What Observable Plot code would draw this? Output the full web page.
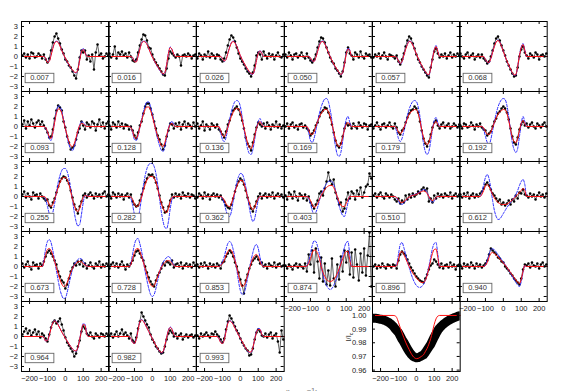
<!DOCTYPE html>
<html><head><meta charset="utf-8">
<script src="https://cdn.jsdelivr.net/npm/d3@7"></script>
<script src="https://cdn.jsdelivr.net/npm/@observablehq/plot@0.6"></script>
<style>
html,body{margin:0;padding:0;background:#fff;}
#fig{position:relative;width:568px;height:391px;overflow:hidden;background:#fff;font-family:"Liberation Sans",Arial,Helvetica,sans-serif;}
#fig svg{position:absolute;overflow:visible !important;background:transparent !important;}
#xlab{position:absolute;left:0;width:596px;top:386px;text-align:center;font-size:9px;color:#777;}
</style></head><body><div id="fig"><div id="xlab">v (km s<sup>−1</sup>)</div></div>
<script>
// ---- sampling grids and ticks ----
const vObs = [-240,-230,-220,-210,-200,-190,-180,-170,-160,-150,-140,-130,-120,-110,-100,-90,-80,-70,-60,-50,-40,-30,-20,-10,0,10,20,30,40,50,60,70,80,90,100,110,120,130,140,150,160,170,180,190,200,210,220,230,240];
const vMod = [-130,-120,-110,-100,-90,-80,-70,-60,-50,-40,-30,-20,-10,0,10,20,30,40,50,60,70,80,90,100,110,120,130];
const xDomain = [-245, 245];
const yDomain = [-3.5, 3.5];
const xTicks = [-200, -100, 0, 100, 200];
const yTicks = [-3, -2, -1, 0, 1, 2, 3];
const profDomain = [0.959, 1.0102];
const profTicks = [0.96, 0.97, 0.98, 0.99, 1.00];
const profLabel = "I/Ic";
const phases = ["0.007","0.016","0.026","0.050","0.057","0.068","0.093","0.128","0.136","0.169","0.179","0.192","0.255","0.282","0.362","0.403","0.510","0.612","0.673","0.728","0.853","0.874","0.896","0.940","0.964","0.982","0.993"];

// ---- per-phase observed (black), model (red) and alternative model (blue dashed) ----
const obs007 = [0.1,0.3,-0.1,0.2,-0.2,0.4,0.3,-0.1,0.0,0.3,0.1,
 -0.2,0.2,-0.3,-0.6,-0.2,0.6,1.4,2.0,2.3,1.8,1.3,0.7,0.3,-0.3,-0.5,-0.9,-1.1,-1.5,-1.9,-2.2,-1.3,-0.1,0.6,0.4,0.6,-0.3,0.1,
 -0.5,0.2,-1.3,0.4,1.2,0.1,0.3,-0.2,0.0,0.3,0.1];
const red007 = [0,0,-0.2,-0.6,-0.5,0.1,0.8,1.35,1.5,1.4,1.05,0.6,0.2,-0.15,-0.5,-0.8,-1.1,-1.35,-1.55,-1.6,-1.3,-0.4,0.45,0.7,0.35,0.05,0];
const blue007 = [0,0,-0.2,-0.55,-0.45,0.15,0.85,1.4,1.55,1.45,1.1,0.6,0.2,-0.2,-0.55,-0.85,-1.15,-1.4,-1.6,-1.65,-1.3,-0.35,0.55,0.8,0.4,0.05,0];

const obs016 = [0.3,-0.1,0.2,1.0,-0.2,0.4,0.2,0.5,0.1,0.3,-0.1,
 0.4,0.0,-0.4,-0.5,-0.3,0.4,1.1,1.7,2.2,2.1,1.6,0.9,0.8,0.2,-0.3,-0.6,-0.9,-1.2,-1.5,-1.8,-1.9,-1.2,-0.2,0.5,0.3,0.1,-0.1,
 0.2,0.0,-0.9,0.1,0.2,0.0,0.3,0.1,-0.2,0.1,0.2];
const red016 = [0,0,-0.1,-0.5,-0.55,0.0,0.7,1.3,1.5,1.45,1.2,0.8,0.35,-0.05,-0.4,-0.7,-1.0,-1.3,-1.55,-1.75,-1.6,-0.8,0.3,0.9,0.7,0.2,0];
const blue016 = [0,0,-0.1,-0.45,-0.5,0.05,0.75,1.35,1.55,1.5,1.25,0.8,0.35,-0.05,-0.4,-0.75,-1.05,-1.35,-1.6,-1.8,-1.6,-0.75,0.35,0.95,0.7,0.2,0];

const obs026 = [-0.2,0.3,0.1,-0.3,0.2,0.0,0.5,-0.1,0.3,0.1,-0.2,
 0.2,0.1,-0.3,-0.5,-0.2,0.4,1.1,1.7,2.1,1.9,1.5,0.9,0.3,-0.2,-0.5,-0.8,-1.2,-1.5,-1.7,-2.0,-1.6,-0.9,0.1,0.4,0.2,-0.3,0.5,
 0.1,-0.2,0.3,0.0,0.2,-0.3,0.1,0.4,0.0,-0.1,0.2];
const red026 = [0,0,0,-0.2,-0.45,-0.3,0.3,0.9,1.35,1.5,1.35,1.0,0.55,0.1,-0.3,-0.65,-0.95,-1.25,-1.5,-1.7,-1.75,-1.3,-0.4,0.3,0.55,0.3,0];
const blue026 = [0,0,0,-0.2,-0.5,-0.3,0.3,0.95,1.4,1.55,1.4,1.0,0.55,0.1,-0.3,-0.7,-1.0,-1.3,-1.55,-1.75,-1.8,-1.3,-0.4,0.35,0.6,0.3,0];

const obs050 = [0.2,-0.1,0.4,0.1,-0.3,0.2,0.3,-0.1,0.1,0.4,0.0,
 -0.2,0.3,-0.1,-0.4,-0.6,-0.3,0.2,0.9,1.5,1.9,1.8,1.4,0.9,0.4,-0.1,-0.5,-0.7,-1.2,-1.4,-1.7,-2.0,-1.5,-0.6,0.4,0.9,0.3,0.1,
 -0.3,0.4,0.2,-0.1,0.5,0.0,-0.2,0.3,0.1,0.2,-0.1];
const red050 = [0,0,0,-0.15,-0.4,-0.5,-0.1,0.5,1.1,1.45,1.5,1.25,0.85,0.4,0.0,-0.4,-0.75,-1.05,-1.35,-1.6,-1.8,-1.6,-0.8,0.2,0.75,0.6,0];
const blue050 = [0,0,0,-0.15,-0.45,-0.5,-0.1,0.55,1.15,1.5,1.55,1.3,0.85,0.4,0.0,-0.4,-0.8,-1.1,-1.4,-1.65,-1.85,-1.6,-0.75,0.3,0.85,0.65,0];

const obs057 = [-0.1,0.2,0.0,0.3,-0.2,0.1,0.4,0.0,-0.3,0.2,0.1,
 0.0,-0.2,0.1,-0.5,-0.8,-0.3,0.3,1.0,1.6,2.0,1.8,1.3,0.8,0.2,-0.3,-0.6,-1.0,-1.3,-1.6,-1.9,-2.1,-1.1,-0.3,0.5,0.8,0.3,-0.1,
 0.2,0.0,0.3,-0.2,0.1,0.4,-0.1,0.2,0.0,0.3,0.1];
const red057 = [0,0,-0.1,-0.45,-0.7,-0.5,0.1,0.7,1.2,1.5,1.45,1.15,0.7,0.25,-0.15,-0.55,-0.9,-1.2,-1.5,-1.75,-1.8,-1.2,-0.2,0.6,1.0,0.5,0];
const blue057 = [0,0,-0.1,-0.45,-0.75,-0.55,0.1,0.75,1.25,1.55,1.5,1.2,0.7,0.25,-0.15,-0.6,-0.95,-1.25,-1.55,-1.8,-1.85,-1.2,-0.15,0.7,1.1,0.55,0];

const obs068 = [0.3,0.0,-0.2,0.2,0.4,-0.1,0.1,0.3,-0.3,0.0,0.2,
 -0.1,0.2,-0.2,-0.4,-0.7,-0.5,0.0,0.6,1.3,1.8,2.0,1.6,1.1,0.6,0.1,-0.5,-0.9,-1.3,-1.7,-2.0,-1.9,-1.1,0.0,0.7,1.0,0.4,0.1,
 -0.2,0.3,0.1,-0.1,0.4,0.2,-0.3,0.1,0.2,0.0,0.3];
const red068 = [0,0,0,-0.3,-0.55,-0.6,-0.2,0.4,1.0,1.45,1.6,1.4,1.0,0.5,0.0,-0.45,-0.85,-1.25,-1.6,-1.85,-1.8,-1.0,0.1,0.85,1.2,0.6,0];
const blue068 = [0,0,0,-0.3,-0.6,-0.65,-0.2,0.45,1.05,1.5,1.65,1.45,1.0,0.5,0.0,-0.5,-0.9,-1.3,-1.65,-1.9,-1.85,-1.0,0.15,0.95,1.3,0.65,0];

const obs093 = [0.2,0.6,-0.2,0.5,0.1,0.7,0.3,-0.1,0.4,0.6,0.2,
 0.5,0.1,-0.2,-0.6,-1.1,-1.0,-0.3,0.8,1.6,2.1,1.9,1.6,0.5,-0.1,-1.0,-1.6,-2.3,-2.1,-1.9,-1.3,-0.6,-0.2,0.5,0.1,-0.3,0.4,0.2,
 -0.1,0.5,0.3,-0.4,0.2,0.7,0.0,0.4,-0.2,0.3,0.5];
const red093 = [0,0,-0.1,-0.5,-1.0,-1.2,-0.6,0.4,1.3,1.75,1.7,1.3,0.6,-0.2,-0.9,-1.5,-1.9,-2.0,-1.7,-1.1,-0.4,0.1,0.3,0.25,0.1,0,0];
const blue093 = [0,0,-0.15,-0.6,-1.2,-1.4,-0.7,0.5,1.5,2.05,2.0,1.5,0.7,-0.2,-1.05,-1.8,-2.25,-2.4,-2.0,-1.3,-0.5,0.15,0.45,0.4,0.15,0,0];

const obs128 = [0.1,-0.3,0.4,0.2,-0.1,0.5,0.0,0.3,-0.2,0.2,0.1,
 -0.3,0.0,-0.4,-0.9,-1.2,-0.6,0.1,0.5,1.3,2.0,2.3,2.3,1.8,1.2,0.5,-0.2,-0.9,-1.3,-1.8,-2.3,-1.9,-1.0,-0.4,0.3,0.2,-0.2,0.3,
 0.0,0.4,-0.3,0.2,0.5,-0.1,0.3,0.1,-0.2,0.4,0.0];
const red128 = [0,-0.1,-0.5,-1.1,-1.2,-0.8,-0.1,0.6,1.2,1.7,1.95,1.95,1.6,1.0,0.3,-0.4,-1.0,-1.5,-1.9,-2.0,-1.6,-0.9,-0.2,0.2,0.3,0.1,0];
const blue128 = [0,-0.1,-0.6,-1.3,-1.4,-0.9,-0.1,0.7,1.5,2.1,2.45,2.45,2.0,1.25,0.4,-0.5,-1.25,-1.9,-2.35,-2.5,-2.0,-1.1,-0.2,0.35,0.5,0.2,0];

const obs136 = [0.3,-0.2,0.1,0.5,-0.4,0.2,0.0,-0.3,0.3,0.1,-0.1,
 0.2,-0.3,-0.5,-0.8,-1.1,-0.5,0.2,0.6,1.2,1.6,1.8,2.0,1.7,1.2,0.6,-0.2,-1.1,-1.7,-2.0,-2.4,-1.6,-0.8,-0.1,0.4,0.2,0.0,0.3,
 -0.2,0.4,0.1,-0.3,0.2,0.0,0.5,-0.1,0.2,-0.2,0.1];
const red136 = [0,0,-0.4,-0.9,-1.0,-0.7,-0.1,0.5,1.0,1.4,1.7,1.8,1.75,1.4,0.7,-0.1,-0.9,-1.6,-2.1,-2.2,-1.8,-1.0,-0.2,0.3,0.5,0.2,0];
const blue136 = [0,0,-0.6,-1.3,-1.5,-1.1,-0.2,0.7,1.5,2.1,2.5,2.6,2.5,2.0,1.0,-0.2,-1.3,-2.2,-2.7,-2.8,-2.3,-1.3,-0.2,0.5,0.8,0.3,0];

const obs169 = [0.0,0.3,-0.2,0.2,0.4,-0.1,0.1,-0.3,0.2,0.3,-0.1,
 0.1,-0.2,-0.4,-0.9,-0.7,-0.4,0.1,0.4,1.0,1.4,1.6,1.9,1.8,1.4,0.9,0.2,-0.6,-1.4,-1.9,-2.1,-1.7,-1.0,-0.2,0.3,0.1,0.2,-0.2,
 0.3,0.0,-0.2,0.4,0.1,-0.1,0.3,0.2,-0.3,0.1,0.2];
const red169 = [0,0,-0.3,-0.75,-0.8,-0.5,0.0,0.5,0.95,1.3,1.55,1.7,1.7,1.5,1.0,0.3,-0.5,-1.3,-1.8,-2.0,-1.8,-1.1,-0.3,0.2,0.4,0.15,0];
const blue169 = [0,0,-0.6,-1.4,-1.6,-1.2,-0.4,0.5,1.3,1.95,2.45,2.75,2.8,2.5,1.7,0.6,-0.8,-2.0,-2.8,-3.0,-2.6,-1.5,-0.2,0.7,1.0,0.4,0];

const obs179 = [-0.2,0.1,0.4,0.0,-0.3,0.2,0.3,-0.1,0.1,0.4,0.0,
 -0.2,0.3,-0.1,-0.6,-0.8,-0.4,-0.2,0.4,0.9,1.3,1.6,1.7,2.0,1.8,1.4,0.5,-0.4,-1.2,-1.7,-2.0,-1.5,-0.8,-0.1,0.4,0.6,0.1,-0.2,
 0.2,0.4,-0.1,0.1,0.3,-0.2,0.0,0.3,0.1,-0.1,0.2];
const red179 = [0,0,-0.2,-0.55,-0.7,-0.55,-0.15,0.3,0.8,1.2,1.45,1.6,1.7,1.65,1.3,0.6,-0.3,-1.1,-1.6,-1.8,-1.6,-1.0,-0.2,0.3,0.5,0.2,0];
const blue179 = [0,0,-0.5,-1.2,-1.5,-1.2,-0.5,0.3,1.1,1.75,2.2,2.5,2.6,2.5,2.0,1.0,-0.4,-1.7,-2.5,-2.8,-2.5,-1.5,-0.3,0.6,0.9,0.4,0];

const obs192 = [0.1,-0.2,0.3,0.2,-0.1,0.0,0.4,0.1,-0.3,0.2,0.0,
 0.3,-0.1,-0.3,-0.4,-0.9,-0.7,-0.5,0.0,0.5,0.8,1.3,1.5,1.8,2.0,1.8,1.4,0.7,-0.2,-1.0,-1.6,-1.8,-1.1,-0.3,0.2,0.5,0.1,0.3,
 -0.1,0.2,0.4,0.0,-0.2,0.3,0.1,-0.1,0.2,0.4,0.0];
const red192 = [0,0,-0.15,-0.5,-0.75,-0.8,-0.55,-0.1,0.4,0.85,1.2,1.45,1.6,1.7,1.65,1.3,0.6,-0.3,-1.1,-1.5,-1.6,-1.2,-0.4,0.3,0.6,0.3,0];
const blue192 = [0,0,-0.3,-1.0,-1.6,-1.8,-1.3,-0.4,0.5,1.3,1.95,2.4,2.7,2.8,2.7,2.1,1.0,-0.4,-1.6,-2.3,-2.6,-2.2,-1.0,0.3,1.0,0.5,0];

const obs255 = [0.2,0.5,-0.1,0.3,0.0,-0.3,0.4,0.1,0.2,-0.2,0.3,
 0.0,-0.2,-0.4,-0.3,-0.9,-1.1,-0.6,-0.2,0.4,1.0,1.5,1.8,2.0,1.9,1.6,1.3,0.6,-0.1,-0.8,-1.3,-1.7,-1.0,-0.5,0.1,0.3,-0.1,0.2,
 0.4,0.1,-0.2,0.3,0.0,0.2,-0.1,0.3,0.5,0.0,0.2];
const red255 = [0,0,-0.1,-0.4,-0.8,-1.0,-0.8,-0.3,0.3,0.9,1.4,1.75,1.9,1.9,1.7,1.2,0.5,-0.3,-0.9,-1.35,-1.5,-1.2,-0.6,-0.1,0.1,0.05,0];
const blue255 = [0,0,-0.3,-1.0,-1.7,-2.0,-1.6,-0.7,0.4,1.4,2.1,2.6,2.8,2.8,2.5,1.8,0.8,-0.4,-1.6,-2.5,-2.95,-2.8,-1.8,-0.6,0.1,0.1,0];

const obs282 = [0.1,-0.2,0.4,0.2,-0.1,0.3,0.0,0.2,-0.3,0.1,0.3,
 -0.1,0.2,-0.5,-0.8,-1.0,-0.9,-0.4,0.2,0.8,1.4,1.8,2.2,2.1,2.2,1.9,1.4,0.8,0.1,-0.6,-1.1,-1.6,-1.5,-1.0,-0.4,0.2,-0.1,0.3,
 0.0,0.2,-0.2,0.4,0.1,0.0,0.3,-0.1,0.2,0.1,-0.2];
const red282 = [0,-0.05,-0.3,-0.75,-1.0,-0.95,-0.6,-0.05,0.6,1.2,1.65,1.9,2.0,2.0,1.85,1.45,0.8,0.0,-0.7,-1.2,-1.5,-1.6,-1.2,-0.5,-0.1,0,0];
const blue282 = [0,-0.2,-0.9,-1.8,-2.4,-2.2,-1.3,-0.1,1.1,2.1,2.8,3.2,3.3,3.3,3.0,2.3,1.2,-0.2,-1.5,-2.5,-3.1,-3.2,-2.5,-1.2,-0.3,0,0];

const obs362 = [-0.1,0.3,0.1,-0.2,0.4,0.0,0.2,-0.3,0.1,0.3,0.0,
 0.2,-0.1,0.1,-0.3,-0.5,-0.9,-1.1,-1.2,-0.8,-0.2,0.5,1.1,1.5,1.8,1.6,1.2,0.6,-0.1,-0.7,-1.2,-1.5,-1.0,-0.5,0.0,0.3,-0.2,0.1,
 0.3,-0.1,0.2,0.0,0.4,-0.2,0.1,0.3,0.0,0.2,-0.1];
const red362 = [0,0,0,-0.1,-0.35,-0.7,-0.95,-1.0,-0.7,-0.1,0.5,1.0,1.4,1.6,1.6,1.3,0.7,0.0,-0.6,-1.1,-1.3,-1.1,-0.6,-0.2,0,0,0];
const blue362 = [0,0,0,-0.2,-0.7,-1.4,-1.9,-2.0,-1.5,-0.5,0.5,1.4,2.0,2.3,2.25,1.8,1.0,0.0,-1.1,-2.0,-2.5,-2.2,-1.3,-0.4,0,0,0];

const obs403 = [0.1,-0.3,0.4,0.2,-0.2,0.5,0.0,-0.4,0.3,0.1,-0.2,
 0.2,-0.4,0.0,-0.6,-0.9,-1.2,-0.8,-0.4,0.3,0.5,0.1,0.8,1.5,2.4,1.6,1.2,1.7,0.4,-0.2,-0.8,-0.6,-1.5,-1.2,-0.3,0.4,-0.2,0.5,
 0.3,-0.3,0.6,0.2,0.9,-0.1,0.4,1.0,1.2,2.3,1.8];
const red403 = [0,0,-0.1,-0.4,-0.8,-1.1,-1.0,-0.7,-0.3,0.1,0.4,0.7,0.9,1.05,1.1,1.1,0.9,0.5,0.0,-0.5,-0.85,-1.0,-1.0,-0.7,-0.3,0,0];
const blue403 = [0,0,-0.2,-0.7,-1.4,-1.8,-1.6,-1.1,-0.4,0.2,0.6,1.0,1.3,1.5,1.55,1.5,1.2,0.6,-0.1,-0.9,-1.5,-1.9,-2.0,-1.4,-0.6,0,0];

const obs510 = [0.1,0.3,-0.1,0.2,0.4,0.0,-0.2,0.3,0.1,-0.1,0.2,
 0.0,-0.3,-0.5,-0.2,-0.7,-0.4,-0.6,0.1,-0.3,0.2,-0.1,0.3,0.0,0.2,0.5,0.3,0.7,0.9,0.6,0.8,-0.5,-0.2,-0.6,0.1,-0.2,0.3,0.0,
 0.2,-0.1,0.3,0.1,0.0,0.4,-0.2,0.1,0.3,0.0,0.2];
const red510 = [0,0,-0.1,-0.3,-0.55,-0.6,-0.5,-0.35,-0.2,-0.05,0.05,0.1,0.15,0.2,0.3,0.4,0.5,0.55,0.5,0.3,0.0,-0.3,-0.4,-0.3,-0.1,0,0];
const blue510 = [0,0,-0.15,-0.45,-0.75,-0.8,-0.65,-0.45,-0.25,-0.05,0.05,0.15,0.2,0.25,0.35,0.5,0.6,0.7,0.65,0.4,0.0,-0.4,-0.6,-0.45,-0.15,0,0];

const obs612 = [0.2,-0.1,0.3,0.0,0.4,-0.2,0.1,0.3,-0.1,0.2,0.0,
 0.3,0.5,0.8,1.2,1.4,1.1,0.7,0.3,0.1,-0.2,-0.5,-0.3,-0.8,-0.6,-0.9,-0.7,-0.4,-0.8,-0.3,-0.5,0.1,-0.2,0.4,0.3,0.7,0.2,0.1,
 -0.1,0.3,0.0,0.2,-0.3,0.1,0.4,0.0,0.2,-0.1,0.3];
const red612 = [0,0.2,0.6,1.05,1.2,1.0,0.6,0.2,-0.15,-0.4,-0.6,-0.7,-0.8,-0.8,-0.8,-0.75,-0.65,-0.5,-0.35,-0.2,0.0,0.2,0.4,0.6,0.8,0.6,0];
const blue612 = [0,0.4,1.2,1.9,2.2,1.8,0.8,-0.4,-1.4,-2.0,-2.3,-2.25,-2.0,-1.7,-1.4,-1.1,-0.85,-0.6,-0.35,-0.1,0.2,0.6,1.1,1.5,1.7,1.2,0];

const obs673 = [0.3,-0.1,0.2,0.5,0.0,-0.3,0.4,0.1,0.2,-0.2,0.3,
 0.1,0.5,1.0,1.4,1.6,1.3,1.0,0.6,0.2,-0.5,-1.0,-1.4,-1.6,-2.2,-1.8,-1.2,-0.5,-0.1,0.3,0.1,0.5,0.2,0.6,0.0,0.3,-0.2,0.1,
 0.4,0.0,-0.2,0.3,0.1,0.5,-0.1,0.2,0.0,0.3,0.1];
const red673 = [0,0.4,1.2,1.7,1.8,1.6,1.1,0.5,-0.1,-0.7,-1.3,-1.75,-2.0,-1.95,-1.6,-1.1,-0.6,-0.2,0.1,0.3,0.45,0.5,0.45,0.3,0.15,0.05,0];
const blue673 = [0,0.6,1.8,2.5,2.7,2.4,1.6,0.6,-0.4,-1.4,-2.3,-2.9,-3.2,-3.15,-2.6,-1.8,-1.0,-0.3,0.2,0.5,0.7,0.8,0.75,0.5,0.25,0.05,0];

const obs728 = [-0.2,0.2,0.4,0.0,0.3,-0.1,0.2,0.5,0.1,-0.3,0.2,
 0.0,0.3,0.6,1.1,1.5,1.6,1.3,0.9,0.6,0.0,-0.6,-1.1,-1.5,-1.8,-2.0,-1.4,-0.9,-0.6,-0.2,0.3,0.1,0.5,0.4,0.2,0.6,-0.1,0.2,
 0.3,0.0,0.4,-0.2,0.1,0.3,0.0,0.2,-0.1,0.4,0.1];
const red728 = [0,0.2,0.8,1.4,1.75,1.8,1.5,1.0,0.4,-0.2,-0.8,-1.4,-1.8,-2.0,-1.9,-1.5,-1.0,-0.5,-0.1,0.2,0.4,0.55,0.6,0.5,0.3,0.1,0];
const blue728 = [0,0.3,1.3,2.2,2.7,2.8,2.3,1.5,0.5,-0.5,-1.4,-2.2,-2.8,-3.0,-2.8,-2.2,-1.4,-0.6,0.0,0.4,0.7,0.9,1.0,0.85,0.5,0.15,0];

const obs853 = [0.2,-0.1,0.3,0.0,0.4,0.1,-0.2,0.3,0.0,0.2,-0.1,
 0.3,0.1,-0.2,0.4,0.5,1.0,1.3,1.6,1.4,1.0,0.4,0.0,-0.6,-1.3,-1.9,-2.7,-1.4,-0.8,-0.2,0.2,0.6,0.8,1.0,0.7,0.3,0.4,0.0,
 0.2,-0.2,0.3,0.1,0.0,0.4,-0.1,0.2,0.3,0.0,0.1];
const red853 = [0,0,0.1,0.3,0.6,1.1,1.5,1.7,1.6,1.2,0.6,-0.1,-0.9,-1.6,-2.0,-1.9,-1.5,-0.9,-0.3,0.3,0.8,1.1,1.2,1.0,0.5,0.1,0];
const blue853 = [0,0,0.15,0.5,1.0,1.7,2.3,2.5,2.3,1.7,0.8,-0.3,-1.5,-2.4,-2.8,-2.7,-2.1,-1.2,-0.3,0.6,1.4,2.0,2.2,1.8,0.9,0.2,0];

const obs874 = [0.1,-0.2,0.2,0.0,-0.3,0.1,0.3,-0.1,0.2,0.0,-0.2,
 0.3,-0.5,1.2,0.2,1.6,-0.6,1.8,0.5,-1.2,0.9,-1.5,0.3,-1.8,-0.4,-1.9,0.8,-1.2,-2.0,0.2,-1.3,1.0,-0.5,1.6,0.4,1.5,-0.8,1.4,
 -1.1,1.7,0.2,-1.4,1.3,-0.6,1.8,-0.9,1.1,3.4,-2.0];
const red874 = [0,0.05,0.3,0.8,1.35,1.65,1.6,1.3,0.8,0.0,-0.6,-1.0,-1.3,-1.45,-1.5,-1.45,-1.3,-1.05,-0.7,-0.25,0.25,0.75,1.2,1.5,1.5,0.6,0];
const blue874 = [0,0.1,0.5,1.3,2.1,2.55,2.5,2.0,1.2,0.1,-0.8,-1.5,-1.9,-2.2,-2.3,-2.2,-1.9,-1.5,-1.0,-0.35,0.4,1.2,1.9,2.4,2.5,1.1,0];

const obs896 = [0.0,0.2,-0.2,0.1,-0.1,0.3,0.0,-0.2,0.2,0.1,-0.1,
 0.2,0.1,-0.2,0.6,1.2,1.5,1.3,1.1,0.7,0.3,-0.1,-0.4,-0.7,-1.0,-1.2,-1.4,-1.5,-1.6,-1.2,-0.8,-0.3,0.1,0.3,0.7,0.5,0.2,-0.1,
 0.3,-0.2,0.1,0.2,-0.1,0.4,0.0,0.2,-0.3,0.1,0.2];
const red896 = [0,0,0.1,0.7,1.4,1.5,1.2,0.8,0.4,0.0,-0.35,-0.65,-0.9,-1.15,-1.35,-1.5,-1.6,-1.6,-1.4,-0.9,-0.2,0.6,1.3,1.7,1.75,0.9,0];
const blue896 = [0,0,0.2,1.2,2.2,2.4,1.9,1.2,0.5,-0.1,-0.7,-1.2,-1.6,-1.9,-2.05,-2.1,-2.0,-1.8,-1.4,-0.8,0.0,0.9,1.8,2.3,2.4,1.2,0];

const obs940 = [0.1,-0.2,0.3,0.0,0.2,-0.1,0.4,0.1,-0.2,0.3,0.0,
 0.2,-0.1,0.1,0.3,0.6,1.2,1.8,1.6,1.4,1.2,0.9,0.8,0.5,0.4,0.0,-0.2,-0.4,-0.7,-0.9,-1.2,-1.4,-1.6,-1.8,-1.2,-0.3,0.2,0.1,
 0.3,-0.1,0.4,0.1,0.0,0.3,-0.2,0.2,0.4,0.0,0.2];
const red940 = [0,0,0,0.1,0.4,0.9,1.3,1.4,1.3,1.15,0.95,0.75,0.55,0.35,0.15,-0.1,-0.35,-0.6,-0.85,-1.1,-1.35,-1.55,-1.7,-1.3,-0.5,0.1,0];
const blue940 = [0,0,0,0.15,0.6,1.2,1.7,1.8,1.65,1.45,1.2,0.95,0.7,0.45,0.2,-0.1,-0.4,-0.7,-1.0,-1.3,-1.6,-1.85,-2.0,-1.5,-0.6,0.1,0];

const obs964 = [0.2,0.5,0.8,0.3,0.6,0.1,0.4,0.7,0.2,0.5,-0.1,
 0.3,0.1,-0.2,-0.5,0.2,0.9,1.4,1.6,1.3,1.5,1.8,1.2,0.6,-0.1,-0.6,-0.9,-1.2,-1.5,-2.0,-1.7,-1.0,-0.4,0.5,1.0,0.8,0.3,0.1,
 0.4,0.0,-0.2,0.3,0.1,-0.1,0.3,0.2,0.0,0.3,0.1];
const red964 = [0,-0.1,-0.45,-0.4,0.1,0.8,1.35,1.55,1.45,1.15,0.8,0.45,0.15,-0.15,-0.45,-0.75,-1.0,-1.25,-1.4,-1.45,-1.1,-0.3,0.6,1.2,1.1,0.2,0];
const blue964 = [0,-0.1,-0.45,-0.4,0.15,0.85,1.4,1.6,1.5,1.2,0.8,0.45,0.15,-0.15,-0.45,-0.75,-1.0,-1.25,-1.4,-1.5,-1.15,-0.3,0.65,1.3,1.2,0.25,0];

const obs982 = [0.1,0.3,-0.1,0.2,0.5,0.0,0.3,0.7,0.2,0.4,0.1,
 -0.2,0.3,-0.4,-0.6,-0.1,0.8,1.5,2.4,2.0,1.6,1.2,0.9,0.2,-0.3,-0.6,-1.0,-1.2,-1.5,-1.7,-1.6,-1.0,-0.3,0.3,0.6,0.4,0.0,0.3,
 -0.2,0.1,0.3,-0.3,0.0,0.2,-0.1,0.1,0.2,-0.1,0.1];
const red982 = [0,-0.2,-0.6,-0.7,-0.3,0.6,1.45,1.65,1.5,1.2,0.85,0.5,0.15,-0.2,-0.55,-0.9,-1.2,-1.45,-1.6,-1.5,-0.9,-0.1,0.6,0.9,0.7,0.2,0];
const blue982 = [0,-0.2,-0.6,-0.7,-0.25,0.65,1.5,1.7,1.55,1.25,0.85,0.5,0.15,-0.2,-0.55,-0.9,-1.25,-1.5,-1.65,-1.55,-0.9,-0.05,0.65,0.95,0.75,0.2,0];

const obs993 = [0.1,-0.2,0.3,0.0,0.2,0.4,0.1,-0.1,0.3,0.2,0.5,
 0.2,0.0,-0.3,-0.6,-0.2,0.7,1.5,2.1,1.8,1.4,1.0,0.6,0.3,-0.2,-0.6,-0.9,-1.2,-1.4,-1.9,-1.8,-1.2,-0.3,0.4,0.7,0.5,0.1,0.0,
 0.3,-0.1,0.2,0.4,-0.2,0.1,0.3,-0.5,-1.6,0.6,-0.3];
const red993 = [0,-0.2,-0.6,-0.7,-0.35,0.5,1.3,1.55,1.45,1.2,0.85,0.5,0.15,-0.2,-0.5,-0.85,-1.15,-1.4,-1.55,-1.55,-1.1,-0.3,0.4,0.7,0.7,0.2,0];
const blue993 = [0,-0.2,-0.55,-0.7,-0.3,0.55,1.35,1.6,1.5,1.25,0.9,0.5,0.15,-0.2,-0.55,-0.9,-1.2,-1.45,-1.6,-1.6,-1.1,-0.25,0.5,0.8,0.75,0.2,0];

// ---- mean intensity profile panel ----
const profObs = [0.998,0.998,0.9978,0.9975,0.9972,0.997,0.9965,0.996,0.9953,0.9945,0.9935,
 0.9922,0.9905,0.989,0.9875,0.985,0.9825,0.9805,0.978,0.9757,0.9735,0.9717,0.9703,0.9695,0.969,0.9692,0.9698,0.9705,0.9712,0.9728,0.9748,0.9768,0.9788,0.9815,0.9842,0.9867,0.989,0.9908,
 0.9922,0.9935,0.9945,0.9955,0.9963,0.997,0.9977,0.9983,0.9988,0.9993,0.9997];
const profModel = [1.0,0.9998,0.9985,0.995,0.991,0.9873,0.9838,0.9805,0.9776,0.975,0.9724,0.9703,0.969,0.9684,0.9686,0.9693,0.9702,0.9712,0.9735,0.9758,0.979,0.983,0.988,0.9935,0.9975,0.9995,1.0];

const panels = [
  {obs: obs007, red: red007, blue: blue007}, {obs: obs016, red: red016, blue: blue016},
  {obs: obs026, red: red026, blue: blue026}, {obs: obs050, red: red050, blue: blue050},
  {obs: obs057, red: red057, blue: blue057}, {obs: obs068, red: red068, blue: blue068},
  {obs: obs093, red: red093, blue: blue093}, {obs: obs128, red: red128, blue: blue128},
  {obs: obs136, red: red136, blue: blue136}, {obs: obs169, red: red169, blue: blue169},
  {obs: obs179, red: red179, blue: blue179}, {obs: obs192, red: red192, blue: blue192},
  {obs: obs255, red: red255, blue: blue255}, {obs: obs282, red: red282, blue: blue282},
  {obs: obs362, red: red362, blue: blue362}, {obs: obs403, red: red403, blue: blue403},
  {obs: obs510, red: red510, blue: blue510}, {obs: obs612, red: red612, blue: blue612},
  {obs: obs673, red: red673, blue: blue673}, {obs: obs728, red: red728, blue: blue728},
  {obs: obs853, red: red853, blue: blue853}, {obs: obs874, red: red874, blue: blue874},
  {obs: obs896, red: red896, blue: blue896}, {obs: obs940, red: red940, blue: blue940},
  {obs: obs964, red: red964, blue: blue964}, {obs: obs982, red: red982, blue: blue982},
  {obs: obs993, red: red993, blue: blue993}
].map((p, i) => ({...p, phase: phases[i]}));

// ---- layout ----
const GX = 20.7, GY = 20.5, PW = 87.7, PH = 70, TL = 3;
const FONT = "'Liberation Sans', Arial, Helvetica, sans-serif";
const fig = document.getElementById("fig");
const labelSvgs = [];
const intFmt = d => String(d).replace("-", "\u2212");

function edgeTicks(xt, yt) {
  return [
    Plot.tickX(xt, {x: d => d, insetTop: PH - TL, stroke: "#000"}),
    Plot.tickX(xt, {x: d => d, insetBottom: PH - TL, stroke: "#000"}),
    Plot.tickY(yt, {y: d => d, insetRight: PW - TL, stroke: "#000"}),
    Plot.tickY(yt, {y: d => d, insetLeft: PW - TL, stroke: "#000"})
  ];
}
function place(svg, x0, y0) {
  svg.style.left = x0 + "px";
  svg.style.top = y0 + "px";
  fig.appendChild(svg);
}

panels.forEach((p, i) => {
  const r = Math.floor(i / 6), c = i % 6;
  const showX = r === 4 || (r === 3 && (c === 3 || c === 5));
  const showY = c === 0;
  const obs = vObs.map((v, k) => ({v, y: p.obs[k]}));
  const model = arr => [{v: xDomain[0], y: arr[0]}, ...vMod.map((v, k) => ({v, y: arr[k]})), {v: xDomain[1], y: arr[arr.length - 1]}];
  const marks = [
    Plot.line(obs, {x: "v", y: "y", stroke: "#3a3a3a", strokeWidth: 0.8}),
    Plot.dot(obs, {x: "v", y: "y", r: 1.25, fill: "#000", stroke: null}),
    Plot.line(model(p.blue), {x: "v", y: "y", stroke: "#2a2aff", strokeWidth: 1, strokeDasharray: "2.5,1.6", curve: "monotone-x"}),
    Plot.line(model(p.red), {x: "v", y: "y", stroke: "#ff1010", strokeWidth: 1, curve: "monotone-x"}),
    ...edgeTicks(xTicks, yTicks),
    Plot.frame({stroke: "#000", strokeWidth: 1}),
    Plot.text([p.phase], {frameAnchor: "bottom-left", dx: 18, dy: -11, text: d => d, fontSize: 7.5, fill: "#333", textAnchor: "middle"})
  ];
  if (showX) marks.push(Plot.axisX({ticks: xTicks, tickSize: 0, tickPadding: 4.5, tickFormat: intFmt, label: null, fontSize: 7.5, color: "#222"}));
  if (showY) marks.push(Plot.axisY({ticks: yTicks, tickSize: 0, tickPadding: 3.5, tickFormat: intFmt, label: null, fontSize: 7.5, color: "#222"}));
  const svg = Plot.plot({
    width: PW, height: PH, margin: 0,
    x: {domain: xDomain, axis: showX ? undefined : null},
    y: {domain: yDomain, axis: showY ? undefined : null},
    style: {fontFamily: FONT, background: "transparent", overflow: "visible"},
    marks
  });
  place(svg, GX + c * PW, GY + r * PH);
  labelSvgs.push(svg);
});

// mean intensity profile panel (row 5, column 5)
{
  const band = vObs.map((v, k) => ({v, y: profObs[k]}));
  const model = [{v: xDomain[0], y: profModel[0]}, ...vMod.map((v, k) => ({v, y: profModel[k]})), {v: xDomain[1], y: profModel[profModel.length - 1]}];
  const svg = Plot.plot({
    width: PW, height: PH, margin: 0,
    x: {domain: xDomain},
    y: {domain: profDomain},
    style: {fontFamily: FONT, background: "transparent", overflow: "visible"},
    marks: [
      Plot.line(band, {x: "v", y: "y", stroke: "#000", strokeWidth: 9, strokeLinejoin: "round", clip: true}),
      Plot.line(model, {x: "v", y: "y", stroke: "#ff1010", strokeWidth: 1, curve: "monotone-x"}),
      ...edgeTicks(xTicks, profTicks),
      Plot.frame({stroke: "#000", strokeWidth: 1}),
      Plot.axisX({ticks: xTicks, tickSize: 0, tickPadding: 4.5, tickFormat: intFmt, label: null, fontSize: 7.5, color: "#222"}),
      Plot.axisY({ticks: profTicks, tickSize: 0, tickPadding: 6, tickFormat: d => d.toFixed(2), label: null, fontSize: 7.5, color: "#222"}),
      Plot.text([profLabel], {frameAnchor: "left", dx: -24, dy: 0.5, rotate: -90, text: d => d, fontSize: 7.5, fill: "#222", textAnchor: "middle"})
    ]
  });
  place(svg, GX + 4 * PW, GY + 4 * PH);
  // subscript "c" in I/Ic
  const t = svg.querySelector('g[aria-label="text"] text');
  if (t) {
    const s = t.textContent;
    t.textContent = s.slice(0, -1);
    const ts = document.createElementNS("http://www.w3.org/2000/svg", "tspan");
    ts.setAttribute("dy", "0.3em");
    ts.setAttribute("font-size", "5.5");
    ts.textContent = s.slice(-1);
    t.appendChild(ts);
  }
}

// boxes around the phase labels
for (const svg of labelSvgs) {
  const t = svg.querySelector('g[aria-label="text"] text');
  if (!t) continue;
  const bb = t.getBBox();
  const rect = document.createElementNS("http://www.w3.org/2000/svg", "rect");
  rect.setAttribute("x", bb.x - 5);
  rect.setAttribute("y", bb.y - 0.2);
  rect.setAttribute("width", bb.width + 10);
  rect.setAttribute("height", bb.height + 0.4);
  rect.setAttribute("fill", "#fff");
  rect.setAttribute("stroke", "#666");
  rect.setAttribute("stroke-width", "0.9");
  if (t.getAttribute("transform")) rect.setAttribute("transform", t.getAttribute("transform"));
  t.parentNode.insertBefore(rect, t);
}
</script>
</body></html>
